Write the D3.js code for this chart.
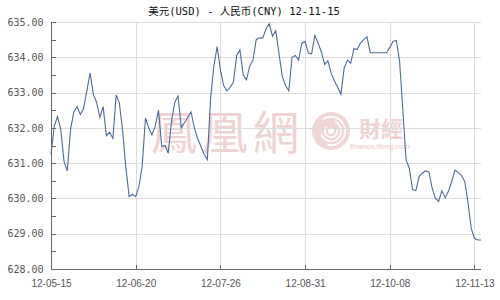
<!DOCTYPE html>
<html>
<head>
<meta charset="utf-8">
<script src="https://cdn.jsdelivr.net/npm/d3@7"></script>
<style>
  body { margin: 0; background: #fff; }
  svg { display: block; }
</style>
</head>
<body>
<div id="chart"></div>
<script>
const width = 500;
const height = 300;

const title = "美元(USD) - 人民币(CNY)  12-11-15";

// daily close, 12-05-15 .. 12-11-15 (weekdays)
const values = [
  631.25, 632.05, 632.32, 631.95, 631.05, 630.78, 631.95, 632.45, 632.6, 632.38,
  632.55, 633.05, 633.55, 632.95, 632.72, 632.3, 632.6, 631.78, 631.88, 631.7,
  632.93, 632.7, 631.9, 630.85, 630.05, 630.12, 630.05, 630.35, 630.92, 632.28,
  632.0, 631.8, 632.05, 632.5, 631.47, 631.5, 631.28, 632.2, 632.72, 632.9,
  632.0, 632.15, 632.3, 632.45, 632.0, 631.7, 631.48, 631.25, 631.1, 632.85,
  633.75, 634.3, 633.65, 633.2, 633.05, 633.15, 633.3, 634.05, 634.2, 633.5,
  633.36, 633.75, 633.92, 634.5, 634.55, 634.55, 634.8, 634.95, 634.6, 634.75,
  634.1, 633.45, 633.2, 633.05, 634.0, 634.05, 633.92, 634.4, 634.45, 634.12,
  634.1, 634.62, 634.4, 634.15, 633.8, 633.9, 633.55, 633.33, 633.15, 632.95,
  633.7, 633.92, 633.83, 634.25, 634.22, 634.4, 634.5, 634.58, 634.13, 634.13,
  634.13, 634.13, 634.13, 634.13, 634.28, 634.45, 634.48, 633.9, 632.5, 631.09,
  630.85, 630.25, 630.22, 630.62, 630.72, 630.78, 630.75, 630.3, 630.0, 629.92,
  630.22, 630.02, 630.2, 630.48, 630.8, 630.74, 630.65, 630.48, 629.9, 629.15,
  628.87, 628.82, 628.82
];

const tickLabels = ["12-05-15", "12-06-20", "12-07-26", "12-08-31", "12-10-08", "12-11-13"];
const tickIndex = [0, 26, 52, 78, 104, 130];
const yTicks = [628, 629, 630, 631, 632, 633, 634, 635];

const margin = {left: 51, right: 19, top: 22, bottom: 31};

const x = d3.scaleLinear()
    .domain([0, values.length - 1])
    .range([margin.left, width - margin.right]);

const y = d3.scaleLinear()
    .domain([628, 635])
    .range([height - margin.bottom, margin.top]);

const svg = d3.select("#chart").append("svg")
    .attr("width", width)
    .attr("height", height);

// watermark
const wm = svg.append("g").attr("fill", "#efd2d2");
wm.append("text")
    .attr("x", 151).attr("y", 149)
    .style("font-family", "'Noto Sans CJK TC'")
    .style("font-size", "46px")
    .style("letter-spacing", "5px")
    .text("鳳凰網");
const logo = wm.append("g").attr("transform", "translate(331,131)");
logo.append("circle").attr("r", 19).attr("fill", "#f0d6d6");
[15, 11, 7].forEach((r, i) => {
    logo.append("path")
        .attr("d", d3.arc()({innerRadius: r - 1.6, outerRadius: r, startAngle: -0.6 + i, endAngle: 3.4 + i}))
        .attr("fill", "#fff");
});
logo.append("circle").attr("r", 3).attr("fill", "#fff");
wm.append("text")
    .attr("x", 359).attr("y", 137)
    .style("font-family", "'Noto Sans CJK TC'")
    .style("font-weight", "bold")
    .style("font-size", "22px")
    .text("財經");
wm.append("text")
    .attr("x", 350).attr("y", 149)
    .style("font-family", "'Liberation Sans'")
    .style("font-weight", "bold")
    .style("font-size", "7px")
    .text("finance.ifeng.com");

// grid
svg.append("g")
    .attr("stroke", "#dcdcdc")
    .attr("shape-rendering", "crispEdges")
    .selectAll("line.h")
    .data(yTicks.slice(1))
    .join("line")
    .attr("x1", margin.left).attr("x2", width - margin.right)
    .attr("y1", d => Math.round(y(d)) + 0.5).attr("y2", d => Math.round(y(d)) + 0.5);

svg.append("g")
    .attr("stroke", "#dcdcdc")
    .attr("shape-rendering", "crispEdges")
    .selectAll("line")
    .data(tickIndex.slice(1))
    .join("line")
    .attr("x1", d => Math.round(x(d)) + 0.5).attr("x2", d => Math.round(x(d)) + 0.5)
    .attr("y1", margin.top).attr("y2", height - margin.bottom);

// line
svg.append("path")
    .datum(values)
    .attr("fill", "none")
    .attr("stroke", "#4d6c9c")
    .attr("stroke-width", 1.1)
    .attr("d", d3.line().x((d, i) => x(i)).y(d => y(d)));

// axes
const yAxis = d3.axisLeft(y)
    .tickValues(d3.range(628, 635.01, 0.5))
    .tickSize(-4)
    .tickFormat(d => Number.isInteger(d) ? d.toFixed(2) : "");
const gy = svg.append("g")
    .attr("transform", `translate(${margin.left + 0.5},0)`)
    .call(yAxis);
gy.select(".domain").attr("d", `M0,${margin.top}V${height - margin.bottom}`);

const xAxis = d3.axisBottom(x)
    .tickValues(tickIndex)
    .tickSize(-5)
    .tickFormat((d, i) => tickLabels[i]);
const gx = svg.append("g")
    .attr("transform", `translate(0,${height - margin.bottom + 0.5})`)
    .call(xAxis);
gx.select(".domain").attr("d", `M${margin.left},0H${width - margin.right}`);

svg.selectAll(".domain, .tick line")
    .attr("stroke", "#666")
    .attr("shape-rendering", "crispEdges");

gy.selectAll(".tick text")
    .attr("x", -8)
    .attr("fill", "#555")
    .style("font-family", "'DejaVu Sans Mono'")
    .style("font-size", "10px");

gx.selectAll(".tick text")
    .attr("y", 10)
    .attr("fill", "#555")
    .style("font-family", "'Liberation Sans'")
    .style("font-size", "10px");

// title
svg.append("text")
    .attr("x", 244)
    .attr("y", 15)
    .attr("text-anchor", "middle")
    .attr("fill", "#111")
    .style("font-family", "'DejaVu Sans Mono', 'Noto Sans CJK SC'")
    .style("font-size", "10.5px")
    .text(title);
</script>
</body>
</html>
